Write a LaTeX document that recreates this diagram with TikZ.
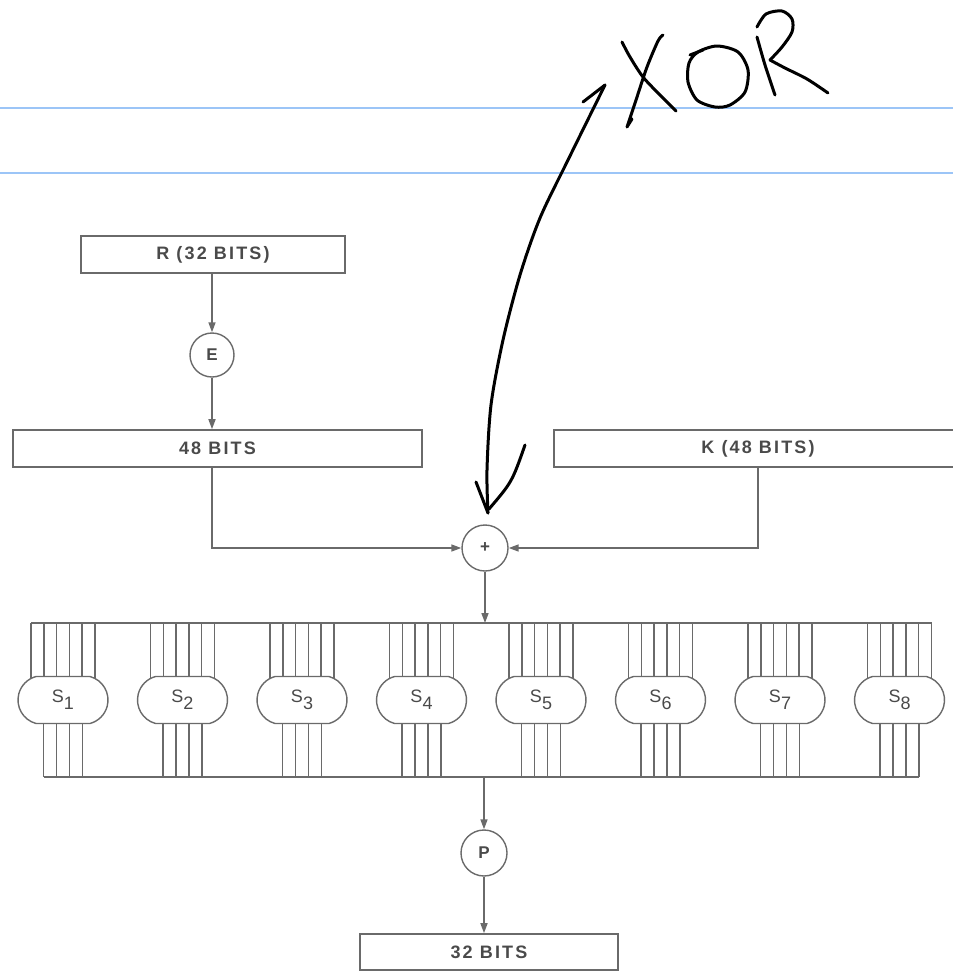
\documentclass[tikz,border=0pt]{standalone}
\usepackage{fontspec}
\usetikzlibrary{arrows.meta,shapes.misc}
\newfontfamily\lblfont[LetterSpace=12]{Liberation Sans}
\definecolor{linegray}{HTML}{6A6A6A}
\definecolor{textgray}{HTML}{4A4A4A}
\definecolor{ruleblue}{HTML}{9CC5F7}
\newcommand{\slab}[1]{S\raisebox{-7pt}{#1}}
\begin{document}
\begin{tikzpicture}[x=1pt,y=-1pt,>={Triangle[length=10pt,width=7pt]},
	box/.style={draw=linegray,line width=1.6pt,minimum height=37pt,inner sep=0pt,text=textgray,font={\lblfont\bfseries\fontsize{18}{20}\selectfont}},
	op/.style={draw=linegray,line width=1.4pt,circle,minimum size=44pt,inner sep=0pt,text=textgray,font={\lblfont\bfseries\fontsize{17}{19}\selectfont}},
	sb/.style={draw=linegray,line width=1.4pt,fill=white,rounded rectangle,rounded rectangle arc length=150,minimum width=90pt,minimum height=47pt,inner sep=0pt,text=textgray,font={\lblfont\fontsize{18}{20}\selectfont}},
	wire/.style={linegray,line width=1.6pt},
	hand/.style={black,line width=3pt,line cap=round,line join=round}]
	\useasboundingbox (0,0) rectangle (953,975);
	\clip (0,0) rectangle (953,975);
	% ruled lines of the notebook page
	\draw[ruleblue,line width=1.5pt] (0,108)--(953,108) (0,173)--(953,173);
	% round function
	\node[box,minimum width=264pt] (r) at (213,254.5) {R (32 BITS)};
	\node[op] (e) at (212,355) {E};
	\node[box,minimum width=409pt] (b48) at (217.5,448.5) {48 BITS};
	\node[box,minimum width=408pt] (k) at (758,448.5) {K (48 BITS)};
	\node[op,minimum size=46pt] (xor) at (485,548) {+};
	\node[op,minimum size=46pt] (p) at (484,853) {P};
	\node[box,minimum width=258pt,minimum height=36pt] (b32) at (489,952) {32 BITS};
	\coordinate (ftop) at (0,623);
	\coordinate (fbot) at (0,777);
	\draw[wire,->] (e |- r.south)--(e.north);
	\draw[wire,->] (e.south)--(e |- b48.north);
	\draw[wire,->] (e |- b48.south) |- (xor.west);
	\draw[wire,->] (k.south) |- (xor.east);
	\draw[wire,->] (xor.south)--(xor.south |- ftop);
	% S-boxes
	\draw[wire] (31,623)--(931.5,623) (43.5,777)--(919,777);
	\foreach \i in {1,...,8}{
		\pgfmathsetmacro{\cx}{63+119.5*(\i-1)}
		\foreach \d in {-32,-19.2,-6.4,6.4,19.2,32}
		\draw[wire,line width=1.5pt] (\cx+\d,623)--(\cx+\d,700);
		\foreach \d in {-19.5,-6.5,6.5,19.5}
		\draw[wire,line width=1.5pt] (\cx+\d,700)--(\cx+\d,777);
		\node[sb] (s\i) at (\cx,700) {\slab{\i}};
	}
	\draw[wire,->] (p |- fbot)--(p.north);
	\draw[wire,->] (p.south)--(p |- b32.north);
	% handwritten note
	\draw[hand] plot[smooth] coordinates {(605,85) (568,160) (540,218) (520,275) (503,340) (491,405) (487,470) (488,513)};
	\draw[hand] (583,102)--(605,85);
	\draw[hand] (476,482)--(488,513);
	\draw[hand] (525,445) .. controls (512,482) .. (489,509);
	\draw[hand] plot[smooth] coordinates {(622,42) (630,57) (643,77) (660,95) (676,111)};
	\draw[hand] plot[smooth] coordinates {(663,35) (658,41) (647,67) (637,97) (627,127)} -- (632,119);
	\draw[hand] plot[smooth cycle] coordinates {(717,46) (738,52) (748,70) (745,92) (730,105) (715,107) (697,100) (688,82) (689,63) (698,52)};
	\draw[hand] (690,55)--(703,50);
	\draw[hand] plot[smooth] coordinates {(757,37) (765,65) (775,95)};
	\draw[hand] plot[smooth] coordinates {(757,27) (766,14) (782,11) (792,19) (792,32) (782,47) (770,60)};
	\draw[hand] plot[smooth] coordinates {(770,60) (785,68) (807,79) (828,93)};
\end{tikzpicture}
\end{document}
